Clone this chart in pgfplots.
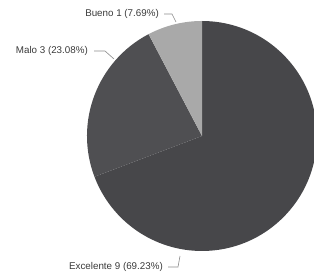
\documentclass[border=0pt]{standalone}
\usepackage{pgfplots}
\usepackage{pgfplotstable}
\pgfplotsset{compat=1.18}
\usepackage{fontspec}
\setmainfont{Liberation Sans}
\definecolor{cExc}{HTML}{47474A}
\definecolor{cMalo}{HTML}{4F4F52}
\definecolor{cBueno}{HTML}{A9A9A9}
\definecolor{cTxt}{HTML}{3A3A3A}
\definecolor{cLine}{HTML}{8A8A8A}
\pgfplotstableread{
label value
Excelente 9
Malo 3
Bueno 1
}\piedata
\begin{document}
\begin{tikzpicture}
\pgfplotstablegetelem{0}{value}\of\piedata \edef\vA{\pgfplotsretval}
\pgfplotstablegetelem{1}{value}\of\piedata \edef\vB{\pgfplotsretval}
\pgfplotstablegetelem{2}{value}\of\piedata \edef\vC{\pgfplotsretval}
\pgfmathsetmacro\tot{\vA+\vB+\vC}
\pgfmathsetmacro\aA{90-360*\vA/\tot}
\pgfmathsetmacro\aB{\aA-360*\vB/\tot}
\pgfmathsetmacro\aC{\aB-360*\vC/\tot}
\begin{axis}[
  scale only axis, width=314pt, height=275pt,
  xmin=0, xmax=314, ymin=0, ymax=275,
  hide axis, clip=true,
]
\addplot[draw=none] coordinates {(0,0) (314,275)};
\fill[cExc] (axis cs:202,139) -- ++(90:115pt) arc[start angle=90, end angle=\aA, radius=115pt] -- cycle;
\fill[cMalo] (axis cs:202,139) -- ++(\aA:115pt) arc[start angle=\aA, end angle=\aB, radius=115pt] -- cycle;
\fill[cBueno] (axis cs:202,139) -- ++(\aB:115pt) arc[start angle=\aB, end angle=\aC, radius=115pt] -- cycle;
% labels
\node[anchor=east, font=\fontsize{9.8}{11}\selectfont, text=cTxt, inner sep=0pt] at (axis cs:159,261) {Bueno 1 (7.69\%)};
\draw[cLine, line width=0.6pt] (axis cs:164,261) -- (axis cs:172,261) -- (axis cs:176,253);
\node[anchor=east, font=\fontsize{9.8}{11}\selectfont, text=cTxt, inner sep=0pt] at (axis cs:88,224) {Malo 3 (23.08\%)};
\draw[cLine, line width=0.6pt] (axis cs:94,224) -- (axis cs:105,224) -- (axis cs:114,216);
\node[anchor=east, font=\fontsize{9.8}{11}\selectfont, text=cTxt, inner sep=0pt] at (axis cs:163,8) {Excelente 9 (69.23\%)};
\draw[cLine, line width=0.6pt] (axis cs:168,8) -- (axis cs:178,8) -- (axis cs:180,19);
\end{axis}
\end{tikzpicture}
\end{document}
